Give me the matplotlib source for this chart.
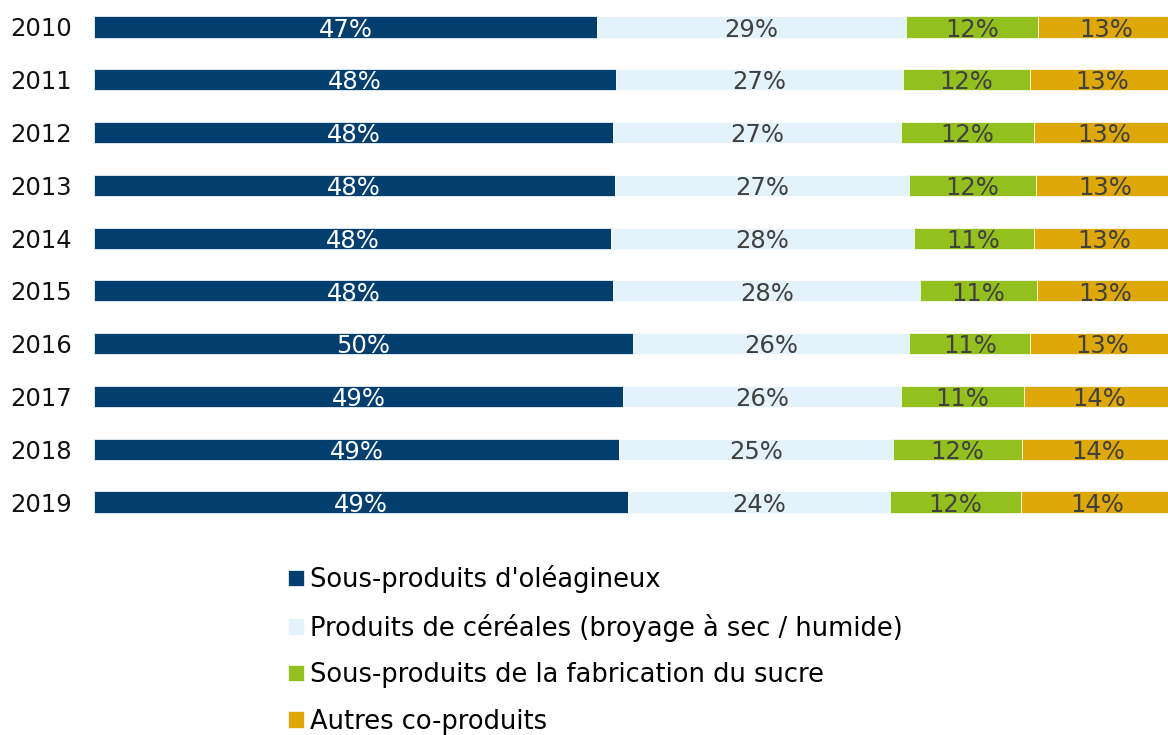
import matplotlib
matplotlib.use("Agg")
import matplotlib.pyplot as plt
import numpy as np

years = ["2010", "2011", "2012", "2013", "2014", "2015", "2016", "2017", "2018", "2019"]
oleagineux = [46.6, 48.3, 48.1, 48.2, 47.9, 48.1, 49.9, 49.0, 48.6, 49.4]
cereales = [28.6, 26.6, 26.6, 27.3, 28.0, 28.4, 25.6, 25.7, 25.4, 24.3]
sucre = [12.2, 11.8, 12.3, 11.7, 11.1, 10.8, 11.2, 11.4, 11.9, 12.1]
autres = [12.6, 13.3, 13.0, 12.8, 13.0, 12.7, 13.3, 13.9, 14.1, 14.2]
series_names = ["Sous-produits d'oléagineux",
                "Produits de céréales (broyage à sec / humide)",
                "Sous-produits de la fabrication du sucre",
                "Autres co-produits"]
colors = ["#023F6F", "#E3F2FB", "#93C01F", "#DDA808"]
label_colors = ["white", "#404040", "#404040", "#404040"]

plt.rcParams["font.family"] = ["DejaVu Sans"]

fig = plt.figure(figsize=(11.68, 7.35), dpi=100)
# axes runs a bit past the right edge, like the original (last segment clipped)
ax = fig.add_axes([94/1168, 1 - 528.4/735, 1080/1168, (528.4 - 0.6)/735])

y = np.arange(len(years))
left = np.zeros(len(years))
handles = []
for vals, col, lcol, name in zip([oleagineux, cereales, sucre, autres], colors, label_colors, series_names):
    vals = np.array(vals)
    b = ax.barh(y, vals, left=left, height=0.4, color=col, edgecolor="white", linewidth=0.5, label=name)
    handles.append(b)
    for yi, l, v in zip(y, left, vals):
        ax.text(l + v/2, yi + 0.05, f"{round(v)}%", ha="center", va="center",
                fontsize=17.5, color=lcol)
    left += vals

ax.set_xlim(0, 100)
ax.set_ylim(len(years) - 0.5, -0.5)
ax.set_yticks(y)
ax.set_yticklabels(years, fontsize=17.5, color="#111111")
ax.tick_params(axis="y", length=0, pad=16)
ax.set_xticks([])
for s in ax.spines.values():
    s.set_visible(False)

fig.legend(handles=handles, loc="upper left", bbox_to_anchor=(288/1168, 1 - 565/735),
           frameon=False, fontsize=18.5, handlelength=0.62, handleheight=0.62,
           handletextpad=0.25, labelspacing=0.8, borderaxespad=0, borderpad=0)

fig.savefig("out.png", dpi=100)
